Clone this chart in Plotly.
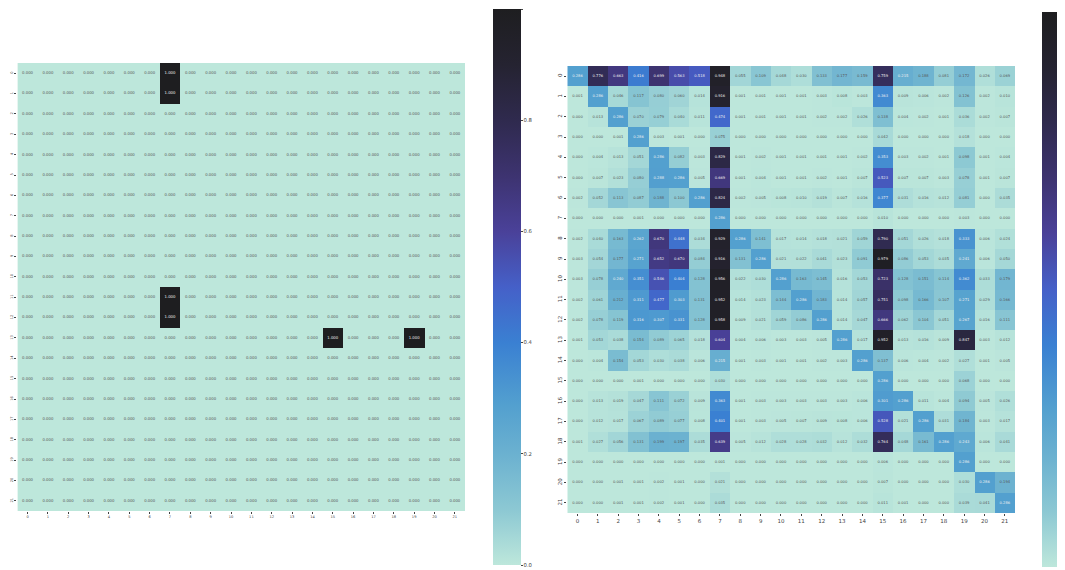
import plotly.graph_objects as go

labels = list(range(22))

left_rows_col7 = [0, 1, 11, 12]
left_rows_other = [(13, 15), (13, 19)]

right_values = [
    [.286, .776, .663, .416, .699, .563, .518, .948, .055, .109, .048, .030, .133, .177, .159, .759, .215, .188, .081, .172, .026, .069],
    [.001, .286, .046, .117, .080, .060, .014, .916, .001, .001, .001, .001, .003, .008, .003, .363, .009, .006, .002, .126, .002, .010],
    [.000, .013, .286, .070, .079, .040, .011, .474, .001, .001, .001, .001, .002, .002, .026, .138, .004, .002, .001, .036, .002, .007],
    [.000, .000, .001, .286, .003, .001, .000, .075, .000, .000, .000, .000, .000, .000, .000, .042, .000, .000, .000, .018, .000, .000],
    [.000, .004, .013, .051, .286, .082, .003, .829, .001, .002, .001, .001, .001, .001, .002, .353, .003, .002, .001, .098, .001, .004],
    [.000, .007, .023, .080, .288, .286, .005, .669, .001, .004, .001, .001, .002, .001, .007, .523, .007, .007, .003, .078, .001, .007],
    [.002, .052, .113, .087, .188, .100, .286, .824, .002, .005, .008, .010, .019, .007, .016, .377, .031, .016, .012, .081, .000, .035],
    [.000, .000, .000, .001, .000, .000, .000, .286, .000, .000, .000, .000, .000, .000, .000, .010, .000, .000, .000, .003, .000, .000],
    [.002, .040, .163, .262, .670, .448, .034, .929, .286, .141, .017, .014, .018, .021, .059, .790, .051, .026, .018, .333, .006, .024],
    [.003, .054, .177, .271, .652, .670, .084, .916, .131, .286, .021, .022, .041, .023, .091, .979, .086, .053, .035, .241, .006, .050],
    [.003, .078, .240, .351, .546, .404, .128, .956, .022, .030, .286, .163, .145, .016, .053, .723, .128, .151, .114, .362, .033, .179],
    [.002, .061, .212, .311, .477, .303, .131, .952, .014, .023, .144, .286, .183, .014, .057, .751, .098, .166, .107, .271, .029, .166],
    [.002, .078, .119, .316, .307, .331, .128, .958, .009, .021, .059, .086, .286, .014, .047, .666, .062, .104, .051, .267, .016, .111],
    [.001, .053, .038, .154, .089, .065, .018, .604, .004, .006, .003, .003, .005, .286, .017, .952, .013, .016, .009, .847, .003, .012],
    [.000, .004, .154, .053, .030, .038, .006, .215, .001, .003, .001, .001, .002, .003, .286, .137, .006, .004, .002, .027, .001, .005],
    [.000, .000, .000, .001, .000, .000, .000, .030, .000, .000, .000, .000, .000, .000, .000, .286, .000, .000, .000, .068, .000, .000],
    [.000, .013, .019, .047, .111, .072, .009, .363, .001, .003, .003, .003, .003, .003, .006, .301, .286, .011, .004, .094, .005, .026],
    [.000, .012, .017, .067, .089, .077, .008, .401, .001, .003, .005, .007, .009, .008, .006, .528, .021, .286, .031, .184, .003, .017],
    [.001, .027, .056, .131, .199, .197, .035, .639, .005, .012, .028, .028, .032, .012, .032, .764, .048, .161, .286, .243, .006, .041],
    [.000, .000, .000, .000, .000, .000, .000, .001, .000, .000, .000, .000, .000, .000, .000, .006, .000, .000, .000, .286, .000, .000],
    [.000, .000, .001, .001, .002, .001, .000, .021, .000, .000, .000, .000, .000, .000, .000, .007, .000, .000, .000, .030, .286, .194],
    [.000, .000, .001, .001, .002, .001, .000, .035, .000, .000, .000, .000, .000, .000, .000, .011, .001, .000, .000, .039, .041, .286],
]

left_values = [[0.0] * 22 for _ in labels]
for r in left_rows_col7:
    left_values[r][7] = 1.0
for r, c in left_rows_other:
    left_values[r][c] = 1.0

colorscale = [
    [0.00, "#bde7db"], [0.10, "#8cc8d3"], [0.20, "#6bb1d0"], [0.286, "#53a0cf"],
    [0.40, "#3a80d2"], [0.50, "#4560c8"], [0.60, "#4a4199"], [0.70, "#3d3370"],
    [0.80, "#2f2a4e"], [0.90, "#252331"], [1.00, "#1e1e20"],
]

W, H = 1065, 570
PAGE = 8  # the page's body margin shifts the figure by this many pixels
INK = "#444444"
LIGHT_FROM = 0.213


def px(v):
    return (v - PAGE) / W


def py(v):
    return 1 - (v - PAGE) / H


def heat(z, xa, ya, cbar):
    return go.Heatmap(z=z, x=labels, y=labels, xaxis=xa, yaxis=ya, zmin=0, zmax=1,
                      colorscale=colorscale, colorbar=cbar, hoverinfo="z")


def cell_text(z, xa, ya, font):
    xs, ys, txt, col = [], [], [], []
    for r in labels:
        for c in labels:
            xs.append(c)
            ys.append(r)
            txt.append(f"{z[r][c]:.3f}")
            col.append("#f2f2f2" if z[r][c] >= LIGHT_FROM else "#555555")
    return go.Scatter(x=xs, y=ys, xaxis=xa, yaxis=ya, mode="text", text=txt, textposition="middle center",
                      textfont=dict(size=font, family="DejaVu Sans", color=col), hoverinfo="skip")


bar_common = dict(
    thickness=28, thicknessmode="pixels", lenmode="pixels", xanchor="left", yanchor="top",
    xpad=0, ypad=0, outlinewidth=0,
    tickvals=[0, 0.2, 0.4, 0.6, 0.8, 1.0], tickformat=".1f",
    ticks="outside", ticklen=2, tickwidth=0.6, tickcolor=INK,
    tickfont=dict(size=5.3, family="DejaVu Sans", color=INK),
)

fig = go.Figure()
fig.add_trace(heat(left_values, "x", "y", dict(x=px(493), y=py(9), len=556, **bar_common)))
fig.add_trace(heat(right_values, "x2", "y2", dict(x=px(1042), y=py(12), len=555, showticklabels=False, **bar_common)))
fig.add_trace(cell_text(left_values, "x", "y", 3.8))
fig.add_trace(cell_text(right_values, "x2", "y2", 3.7))


def axis(dom, size, anchor, **kw):
    return dict(
        domain=dom, tickmode="array", tickvals=labels, ticktext=[str(v) for v in labels],
        ticks="outside", ticklen=2, tickwidth=0.5, tickcolor=INK, showgrid=False, zeroline=False,
        showline=False, anchor=anchor, tickfont=dict(size=size, family="DejaVu Sans", color=INK), **kw,
    )


fig.update_layout(
    width=W, height=H, autosize=False, showlegend=False,
    margin=dict(l=0, r=0, t=0, b=0, pad=0, autoexpand=False),
    paper_bgcolor="white", plot_bgcolor="white",
    xaxis=axis([px(17.4), px(465)], 3.6, "y", range=[-0.5, 21.5]),
    yaxis=axis([py(511), py(63)], 3.6, "x", range=[21.5, -0.5], tickangle=-90),
    xaxis2=axis([px(567.3), px(1015)], 5.5, "y2", range=[-0.5, 21.5]),
    yaxis2=axis([py(513), py(66)], 5.5, "x2", range=[21.5, -0.5], tickangle=-90),
)

fig.write_html("out.html", config=dict(displayModeBar=False))
